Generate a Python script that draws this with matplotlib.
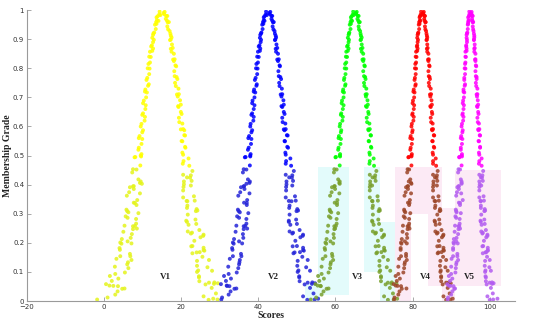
import matplotlib
matplotlib.use("Agg")
import matplotlib.pyplot as plt
from matplotlib.patches import Rectangle

# membership grades of the point sets on each curve
grade_a = [0.995,0.985,0.975,0.965,0.95,0.935,0.92,0.905,0.89,0.875,
           0.86,0.84,0.82,0.80,0.78,0.76,0.74,0.72,0.70,0.68,
           0.66,0.64,0.62,0.60,0.58,0.56,0.54,0.52,0.50,0.494,
           0.466,0.442,0.406,0.394,0.370,0.374,0.330,0.314,0.282,0.286,
           0.266,0.238,0.230,0.182,0.198,0.154,0.154,0.118,0.098,0.086,
           0.042,0.058,0.022]
grade_b = [0.99,0.98,0.97,0.958,0.944,0.928,0.912,0.897,0.882,0.867,
           0.85,0.83,0.81,0.79,0.77,0.75,0.73,0.71,0.69,0.67,
           0.65,0.63,0.61,0.59,0.57,0.55,0.53,0.51,0.49,0.472,
           0.432,0.434,0.424,0.380,0.360,0.344,0.316,0.320,0.280,0.272,
           0.244,0.232,0.228,0.188,0.152,0.164,0.116,0.100,0.104,0.068,
           0.064,0.016,0.005]
grade_c = [0.983,0.979,0.963,0.959,0.953,0.923,0.915,0.898,0.879,0.868,
           0.857,0.839,0.815,0.799,0.767,0.745,0.727,0.717,0.689,0.673,
           0.645,0.633,0.609,0.587,0.567,0.557,0.527,0.505,0.495,0.497,
           0.453,0.403,0.395,0.411,0.391,0.347,0.309,0.337,0.305,0.249,
           0.259,0.257,0.201,0.217,0.197,0.141,0.145,0.113,0.069,0.043,
           0.053,0.051,0.005]
grade_d = [0.986,0.994,0.980,0.964,0.959,0.934,0.919,0.906,0.899,0.870,
           0.857,0.831,0.825,0.807,0.773,0.763,0.739,0.711,0.703,0.675,
           0.667,0.643,0.615,0.591,0.587,0.569,0.549,0.527,0.503,0.465,
           0.481,0.413,0.411,0.397,0.401,0.345,0.343,0.311,0.297,0.265,
           0.239,0.219,0.235,0.173,0.189,0.175,0.167,0.141,0.085,0.059,
           0.057,0.061,0.004]
grade_e = [0.452,0.418,0.385,0.362,0.338,0.302,0.291,0.258,0.247,0.213,
           0.205,0.176,0.162,0.133,0.126,0.093,0.077,0.052,0.033,0.012]
grade_f = [0.447,0.425,0.392,0.356,0.328,0.309,0.276,0.262,0.224,0.207,
           0.183,0.168,0.138,0.121,0.105,0.081,0.063,0.045,0.026,0.008]

# scores
v1_left_a = [14.4,14.3,13.6,13.7,13.2,13.4,12.8,12.5,12.7,12.2,
             12.5,11.7,11.9,11.3,11.7,11.0,11.4,10.6,10.9,10.1,
             10.7,9.9,10.5,9.5,9.9,9.0,9.7,8.9,9.5,7.9,
             9.4,7.3,9.3,7.5,9.3,6.5,8.4,5.8,8.3,6.1,
             8.3,5.0,7.2,4.0,7.1,4.2,6.8,2.8,5.4,1.5,
             4.7,0.5,2.9]
v1_left_c = [14.6,13.9,14.1,13.5,13.6,13.0,12.7,12.9,12.4,12.7,
             11.9,12.1,11.5,11.8,11.2,11.6,10.7,11.1,10.3,10.8,
             10.1,10.6,9.7,10.1,9.2,9.9,9.0,9.7,8.1,9.6,
             7.5,9.8,7.7,9.5,6.7,8.6,6.0,8.0,6.3,8.5,
             5.3,7.5,4.2,6.9,4.5,7.1,3.2,6.3,2.0,5.3,
             1.4,3.6,-1.8]
v1_left_e = [8.4,8.9,7.7,5.9,7.7,8.9,5.6,8.0,7.5,4.6,
             6.1,4.1,6.7,6.2,6.0,2.9,3.7,2.4,3.5,0.9]
v1_right_b = [15.4,16.1,16.0,16.5,16.4,17.0,17.3,17.1,17.6,17.3,
              18.1,17.9,18.5,18.2,18.8,18.4,19.3,18.9,19.7,19.2,
              19.9,19.4,20.3,19.9,20.8,20.1,21.0,20.3,21.9,20.4,
              22.5,20.5,22.3,20.5,23.3,21.4,24.0,21.5,23.7,21.5,
              24.7,22.5,25.8,22.6,25.5,22.9,26.8,24.1,28.0,24.7,
              28.6,25.8,29.4]
v1_right_d = [15.6,15.7,16.4,16.3,16.8,16.6,17.2,17.5,17.3,17.8,
              17.5,18.3,18.1,18.7,18.3,19.0,18.6,19.4,19.1,19.9,
              19.3,20.1,19.5,20.5,20.8,21.0,20.3,21.1,20.5,22.1,
              20.6,22.7,20.7,22.5,20.7,23.5,21.6,24.2,21.7,23.9,
              21.7,25.0,22.8,26.0,22.9,25.8,24.0,27.2,24.6,28.5,
              26.3,29.5,27.1]
v1_right_f = [22.9,21.5,20.6,20.5,21.6,23.8,21.3,21.9,25.7,23.4,
              25.8,24.8,24.1,24.1,24.4,24.6,27.2,27.9,29.0,28.3]

v2_left_a = [42.0,41.9,41.4,41.4,41.0,41.1,40.7,40.4,40.6,40.1,
             40.4,39.7,39.9,39.4,39.7,39.1,39.5,38.8,39.0,38.4,
             38.8,38.2,38.7,37.9,38.2,37.4,38.1,37.3,37.9,36.5,
             37.8,36.0,37.7,36.2,37.7,35.3,37.0,34.7,36.9,35.0,
             36.9,34.1,36.0,33.2,35.8,33.4,35.6,32.2,34.4,31.1,
             33.8,30.3,32.3]
v2_left_c = [42.2,41.6,41.6,41.2,41.3,40.8,40.5,40.7,40.3,40.5,
             39.9,40.1,39.5,39.8,39.3,39.6,38.9,39.2,38.5,39.0,
             38.4,38.8,38.0,38.4,37.6,38.2,37.5,38.0,36.7,37.9,
             36.2,36.9,36.3,37.8,35.5,37.1,34.9,37.0,35.2,37.1,
             34.3,36.2,33.4,36.1,33.6,35.2,32.6,34.8,31.6,34.3,
             31.8,32.5,30.4]
v2_left_e = [36.9,37.3,36.4,34.8,36.3,37.4,34.5,36.6,36.2,33.7,
             35.0,33.3,35.5,35.1,35.0,32.3,32.9,31.9,32.8,30.6]
v2_right_b = [42.8,43.4,43.4,43.8,43.7,44.2,44.5,44.3,44.7,44.5,
              45.1,44.9,45.5,45.2,45.7,45.4,46.1,45.8,46.5,46.0,
              46.6,46.2,47.0,46.6,47.4,46.8,47.5,47.0,48.3,47.1,
              48.8,47.1,48.7,47.2,49.5,47.9,50.1,48.0,49.8,47.9,
              50.7,48.8,51.6,48.9,51.4,49.1,52.4,50.2,53.4,50.7,
              54.0,51.6,54.6]
v2_right_d = [43.0,43.1,43.6,43.6,44.0,43.9,44.3,44.6,44.4,44.9,
              44.6,45.3,45.1,45.6,45.3,45.9,45.5,46.2,46.0,46.6,
              46.2,46.8,46.3,47.1,46.8,47.6,46.9,47.7,47.1,48.5,
              47.2,49.0,47.3,48.8,47.3,49.7,48.6,50.3,48.1,50.0,
              48.1,50.9,49.0,51.8,50.0,51.6,49.4,52.8,50.6,53.9,
              52.0,54.7,52.7]
v2_right_f = [49.2,48.0,47.2,47.1,48.1,49.9,47.9,48.3,51.5,49.6,
              51.6,50.8,50.2,50.1,50.4,50.6,52.8,53.4,54.3,55.5]

v3_left_a = [64.6,64.5,64.0,64.1,63.7,63.9,63.5,63.2,63.4,63.0,
             63.2,62.7,62.8,62.4,62.6,62.2,62.5,61.9,62.1,61.6,
             61.9,61.4,61.8,61.1,61.4,60.8,61.3,60.7,61.1,60.0,
             61.1,59.6,61.0,59.7,61.0,59.0,60.4,58.5,60.3,58.7,
             60.3,57.9,59.5,57.2,59.4,57.4,59.2,56.4,58.2,55.5,
             57.7,54.8,56.4]
v3_left_c = [64.7,64.2,64.3,63.9,64.0,63.6,63.4,63.5,63.2,63.4,
             62.8,63.0,62.5,62.8,62.3,62.6,62.0,62.2,61.7,62.1,
             61.5,61.9,61.2,61.5,60.9,61.4,60.8,61.2,60.1,61.2,
             59.7,61.1,59.8,61.1,59.1,60.5,58.6,60.4,58.9,59.9,
             58.1,59.7,57.4,59.6,57.6,59.4,56.7,58.6,55.8,58.2,
             55.4,56.2,53.6]
v3_left_e = [60.3,60.7,59.9,58.6,59.8,60.7,58.3,60.1,59.7,57.7,
             58.7,57.3,59.1,58.8,58.7,56.4,57.0,56.1,56.9,55.0]
v3_right_b = [65.3,65.8,65.7,66.1,66.0,66.4,66.6,66.5,66.8,66.6,
              67.2,67.0,67.5,67.2,67.7,67.4,68.0,67.8,68.3,67.9,
              68.5,68.1,68.8,68.5,69.1,68.6,69.2,68.8,69.9,68.8,
              70.3,68.9,70.2,68.9,70.9,69.5,71.4,69.6,71.1,69.6,
              71.9,70.3,72.6,70.4,72.4,70.6,73.3,71.4,74.2,71.8,
              74.6,72.6,75.1]
v3_right_d = [65.4,65.5,66.0,65.9,66.3,66.1,66.5,66.8,66.6,67.0,
              66.8,67.3,67.2,67.6,67.4,67.8,67.5,68.1,67.9,68.4,
              68.1,68.6,68.2,68.9,68.6,69.2,68.7,69.3,68.9,70.0,
              68.9,70.4,69.0,69.5,69.0,71.0,69.6,71.5,69.7,71.3,
              69.7,72.1,70.5,72.8,71.2,72.6,70.8,73.6,71.8,74.5,
              73.0,75.8,73.6]
v3_right_f = [70.6,69.6,68.9,68.9,69.7,71.2,69.5,69.9,72.5,71.0,
              72.6,71.9,71.4,71.4,71.6,71.8,73.6,74.1,74.9,76.0]

v4_left_a = [82.2,82.1,81.8,81.9,81.6,81.7,81.4,81.2,81.3,81.1,
             81.2,80.8,80.9,80.6,80.8,80.5,80.7,80.2,80.4,80.0,
             80.3,79.9,80.2,79.7,79.9,79.4,79.8,79.4,79.7,78.9,
             79.7,78.6,79.6,78.7,79.6,78.2,79.1,77.8,79.1,78.0,
             79.1,77.4,78.5,76.9,78.5,77.0,78.3,76.3,77.6,75.6,
             77.2,75.1,76.3]
v4_left_c = [82.3,81.9,82.0,81.7,81.8,81.5,81.3,81.4,81.2,81.3,
             80.9,81.0,80.7,80.9,80.6,80.8,80.3,80.5,80.1,80.4,
             80.0,80.3,79.8,80.0,79.5,79.9,79.5,79.8,79.0,79.7,
             78.7,79.7,78.8,79.0,78.3,79.3,77.9,79.2,78.1,79.2,
             77.5,78.7,77.0,78.6,77.1,78.5,76.5,77.8,75.9,78.4,
             75.6,77.0,75.2]
v4_left_e = [79.1,79.4,78.8,77.9,78.8,79.4,77.7,79.0,78.7,77.2,
             78.0,76.9,78.3,78.0,77.9,76.3,76.7,76.1,76.6,75.3]
v4_right_b = [82.7,83.1,83.0,83.3,83.2,83.5,83.7,83.6,83.8,83.7,
              84.1,84.0,84.3,84.1,84.4,84.2,84.7,84.5,84.9,84.6,
              85.0,84.7,85.2,85.0,85.5,85.1,85.5,85.2,86.0,85.3,
              86.3,85.3,86.2,85.3,86.7,85.7,87.1,85.8,86.9,85.8,
              87.5,86.3,88.0,86.4,87.9,86.5,88.5,87.2,89.1,87.4,
              89.4,88.0,89.8]
v4_right_d = [82.8,82.9,83.2,83.1,83.4,83.3,83.6,83.8,83.7,83.9,
              83.8,84.2,84.1,84.4,84.2,84.5,84.3,84.8,84.6,85.0,
              84.7,85.1,84.8,85.3,85.1,85.6,85.2,85.6,85.3,86.1,
              85.3,86.4,85.4,86.3,85.4,86.8,85.9,87.2,86.4,87.0,
              85.9,87.6,86.5,88.1,87.0,88.0,86.7,88.7,87.4,89.4,
              87.8,89.9,88.7]
v4_right_f = [86.5,85.8,85.3,85.3,85.9,87.0,85.7,86.0,87.9,86.8,
              88.0,87.5,87.2,87.1,87.3,87.4,88.7,89.1,89.6,90.4]

v5_left_a = [94.7,94.7,94.4,94.5,94.3,94.3,94.1,94.0,94.1,93.9,
             94.0,93.7,93.7,93.5,93.6,93.4,93.5,93.2,93.3,93.0,
             93.2,92.9,93.1,92.7,92.9,92.5,92.8,92.5,92.7,92.1,
             92.7,91.8,92.7,91.9,92.6,91.5,92.3,91.2,92.2,91.3,
             92.2,90.9,91.8,90.5,91.7,90.5,91.6,90.0,91.1,89.4,
             90.8,89.0,90.0]
v5_left_c = [94.9,94.6,94.6,94.4,94.4,94.2,94.0,94.1,93.9,94.0,
             93.7,93.8,93.6,93.7,93.4,93.6,93.2,93.4,93.1,93.3,
             93.0,93.2,92.8,93.0,92.6,92.9,92.5,92.8,92.1,92.8,
             91.9,92.7,92.0,92.7,91.6,93.0,91.3,92.3,91.4,92.3,
             91.0,91.9,90.6,91.4,90.7,91.8,90.1,91.2,89.7,91.0,
             89.4,90.6,89.1]
v5_left_e = [92.3,92.5,92.0,91.3,92.0,92.5,91.1,92.1,91.9,90.7,
             91.3,90.5,91.6,91.4,91.3,90.0,90.3,89.8,90.3,89.2]
v5_right_b = [95.1,95.4,95.4,95.6,95.6,95.8,96.0,95.9,96.1,96.0,
              96.3,96.2,96.4,96.3,96.6,96.4,96.8,96.6,96.9,96.7,
              97.0,96.8,97.2,97.0,97.4,97.1,97.5,97.2,97.9,97.2,
              98.1,97.3,98.0,97.3,98.4,97.6,98.7,97.7,98.6,97.7,
              99.0,98.1,99.4,98.1,99.3,98.2,99.9,98.8,100.3,99.0,
              100.6,99.4,100.9]
v5_right_d = [95.3,95.3,95.6,95.5,95.7,95.7,95.9,96.0,95.9,96.1,
              96.0,96.3,96.3,96.5,96.4,96.6,96.5,96.8,96.7,97.0,
              96.8,97.1,96.9,97.3,97.1,97.5,97.2,97.5,97.3,97.9,
              97.3,98.2,97.3,97.8,97.4,98.5,97.7,98.8,97.8,98.7,
              97.8,99.1,98.2,99.5,98.3,99.5,98.9,100.0,98.9,100.6,
              99.2,101.0,100.0]
v5_right_f = [98.3,97.7,97.3,97.3,97.7,98.6,97.6,97.9,99.4,98.5,
              99.5,99.1,98.8,98.7,98.9,99.0,100.0,100.3,100.8,102.0]

labels = ["V1", "V2", "V3", "V4", "V5"]
label_x = [15.8, 43.8, 65.7, 83.3, 94.8]
label_y = 0.083
upper_colors = ["#ffff00", "#0000ff", "#00ff00", "#ff0000", "#ff00ff"]
lower_colors = ["#e4f41c", "#2424d8", "#78a02c", "#9c4628", "#b25cf0"]

clusters = [
    (v1_left_a, v1_left_c, v1_left_e, v1_right_b, v1_right_d, v1_right_f),
    (v2_left_a, v2_left_c, v2_left_e, v2_right_b, v2_right_d, v2_right_f),
    (v3_left_a, v3_left_c, v3_left_e, v3_right_b, v3_right_d, v3_right_f),
    (v4_left_a, v4_left_c, v4_left_e, v4_right_b, v4_right_d, v4_right_f),
    (v5_left_a, v5_left_c, v5_left_e, v5_right_b, v5_right_d, v5_right_f),
]
grades = grade_a + grade_c + grade_e + grade_b + grade_d + grade_f

fig = plt.figure(figsize=(5.5, 3.27), dpi=100)
ax = fig.add_axes([0.049, 0.0795, 0.887, 0.8895])

# faint highlight tiles
cyan = "#e3fbfb"
pink = "#fceaf5"
tiles = [
    (55.5, 0.02, 8.0, 0.44, cyan), (52.0, 0.0, 4.0, 0.06, cyan),
    (67.5, 0.10, 4.0, 0.36, cyan), (71.5, 0.0, 4.0, 0.27, cyan),
    (75.5, 0.0, 4.0, 0.46, pink), (79.5, 0.30, 4.5, 0.16, pink),
    (84.0, 0.05, 3.5, 0.41, pink), (87.5, 0.0, 3.5, 0.32, pink),
    (91.0, 0.05, 12.0, 0.40, pink),
]
for x0, y0, w, h, c in tiles:
    ax.add_patch(Rectangle((x0, y0), w, h, facecolor=c, edgecolor="none", zorder=0))

for sets, cu, cl in zip(clusters, upper_colors, lower_colors):
    xs = [x for s in sets for x in s]
    cols = [cu if y >= 0.46 else cl for y in grades]
    ax.scatter(xs, grades, s=8, c=cols, linewidths=0, alpha=0.85, zorder=2)

for t, lx in zip(labels, label_x):
    ax.text(lx, label_y, t, ha="center", va="center", fontsize=6.5,
            fontweight="bold", family="Liberation Serif", color="#222222", zorder=3)

ax.set_xlim(-20, 106.5)
ax.set_ylim(0, 1)
ax.set_xticks([-20, 0, 20, 40, 60, 80, 100])
ax.set_yticks([0, 0.1, 0.2, 0.3, 0.4, 0.5, 0.6, 0.7, 0.8, 0.9, 1])
ax.set_yticklabels(["0", "0.1", "0.2", "0.3", "0.4", "0.5", "0.6", "0.7", "0.8", "0.9", "1"])
for s in ["top", "right"]:
    ax.spines[s].set_visible(False)
for s in ["left", "bottom"]:
    ax.spines[s].set_color("#9a9a9a")
    ax.spines[s].set_linewidth(0.8)
ax.tick_params(direction="in", length=3, width=0.6, color="#9a9a9a",
               labelsize=5, labelcolor="#333333", pad=2)
ax.set_xlabel("Scores", fontsize=7, fontweight="bold", family="Liberation Serif",
              color="#222222", labelpad=1)
ax.set_ylabel("Membership Grade", fontsize=7, fontweight="bold", family="Liberation Serif",
              color="#222222", labelpad=1)

fig.savefig("out.png", dpi=100)
